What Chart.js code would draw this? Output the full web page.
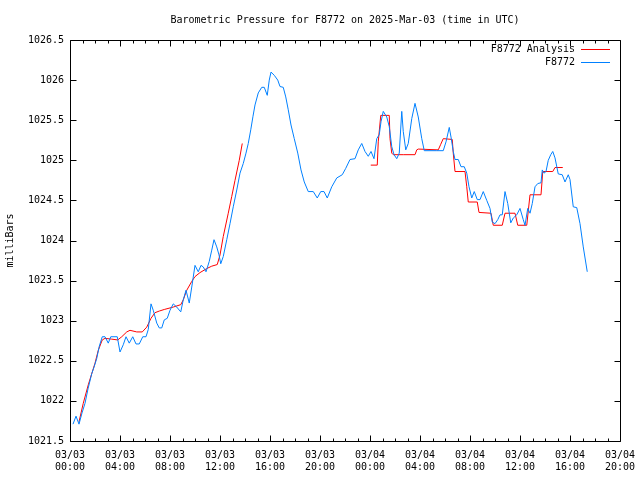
<!DOCTYPE html>
<html><head><meta charset="utf-8">
<script src="https://cdn.jsdelivr.net/npm/chart.js@4/dist/chart.umd.min.js"></script>
<style>html,body{margin:0;padding:0;background:#fff}</style>
</head><body>
<canvas id="c" width="640" height="480"></canvas>
<script>
// ---- data (x in hours since 2025-03-03 00:00 UTC) ----
const stationHours = [0.24,0.48,0.72,0.96,1.2,1.44,1.74,1.92,2.14,2.34,2.58,2.8,3.06,3.26,3.52,3.78,4.0,4.26,4.48,4.74,5.02,5.28,5.54,5.82,6.08,6.26,6.48,6.66,6.94,7.14,7.34,7.54,7.78,8.0,8.26,8.54,8.86,9.06,9.28,9.54,9.74,10.0,10.26,10.48,10.66,10.88,11.14,11.34,11.52,11.74,11.92,12.06,12.26,12.54,12.8,13.06,13.34,13.6,13.86,14.08,14.26,14.46,14.64,14.8,15.06,15.34,15.54,15.78,15.94,16.08,16.34,16.62,16.8,17.06,17.26,17.46,17.68,17.94,18.22,18.48,18.74,19.06,19.46,19.78,20.06,20.32,20.58,20.94,21.34,21.78,22.06,22.4,22.8,23.06,23.34,23.6,23.86,24.08,24.32,24.54,24.74,24.88,25.06,25.34,25.54,25.74,25.92,26.14,26.34,26.54,26.66,26.86,27.06,27.34,27.6,27.86,28.14,28.34,28.8,29.34,29.86,30.08,30.34,30.48,30.66,30.8,31.06,31.28,31.54,31.74,31.92,32.14,32.34,32.58,32.8,33.06,33.34,33.6,33.78,34.0,34.22,34.4,34.58,34.8,35.02,35.26,35.46,35.74,36.0,36.26,36.4,36.62,36.8,36.98,37.2,37.42,37.68,37.78,37.92,38.08,38.26,38.46,38.62,38.8,39.06,39.38,39.6,39.86,40.0,40.26,40.54,40.8,41.06,41.38];
const stationValues = [1021.71,1021.81,1021.71,1021.85,1021.97,1022.15,1022.34,1022.42,1022.53,1022.68,1022.80,1022.80,1022.72,1022.80,1022.80,1022.80,1022.61,1022.70,1022.80,1022.72,1022.80,1022.71,1022.71,1022.80,1022.80,1022.89,1023.21,1023.13,1022.97,1022.91,1022.91,1023.01,1023.03,1023.13,1023.21,1023.17,1023.11,1023.26,1023.38,1023.22,1023.42,1023.69,1023.61,1023.69,1023.67,1023.61,1023.74,1023.88,1024.01,1023.92,1023.82,1023.71,1023.80,1024.01,1024.21,1024.42,1024.63,1024.84,1024.96,1025.09,1025.21,1025.38,1025.55,1025.69,1025.84,1025.91,1025.91,1025.81,1026.00,1026.10,1026.06,1026.00,1025.92,1025.91,1025.79,1025.63,1025.44,1025.27,1025.09,1024.88,1024.73,1024.61,1024.61,1024.53,1024.61,1024.61,1024.53,1024.67,1024.78,1024.82,1024.90,1025.01,1025.02,1025.13,1025.21,1025.11,1025.05,1025.11,1025.02,1025.27,1025.32,1025.48,1025.61,1025.54,1025.42,1025.17,1025.07,1025.02,1025.09,1025.61,1025.36,1025.13,1025.21,1025.52,1025.71,1025.54,1025.27,1025.12,1025.12,1025.12,1025.12,1025.23,1025.41,1025.29,1025.11,1025.01,1025.01,1024.92,1024.92,1024.84,1024.67,1024.53,1024.61,1024.51,1024.51,1024.61,1024.50,1024.40,1024.23,1024.21,1024.26,1024.32,1024.32,1024.61,1024.46,1024.22,1024.28,1024.32,1024.40,1024.26,1024.19,1024.40,1024.34,1024.46,1024.67,1024.71,1024.72,1024.88,1024.84,1024.86,1025.00,1025.07,1025.11,1025.03,1024.83,1024.82,1024.73,1024.82,1024.76,1024.42,1024.41,1024.21,1023.92,1023.61];
const analysisHours = [0.72,1.06,1.46,2.0,2.26,2.58,2.8,3.34,3.82,4.14,4.54,4.8,5.34,5.78,6.14,6.48,6.8,7.14,7.54,8.26,8.86,9.06,9.34,9.74,10.0,10.4,10.94,11.34,11.78,12.0,12.26,12.66,12.94,13.2,13.54,13.78,19.0,24.06,24.58,24.66,24.86,25.54,25.6,25.74,25.86,26.66,27.6,27.74,27.86,29.46,29.66,29.86,30.58,30.66,30.8,31.6,31.74,31.86,32.58,32.72,33.68,33.86,34.58,34.8,35.6,35.82,36.54,36.8,37.68,37.82,38.62,38.8,39.42];
const analysisValues = [1021.74,1021.97,1022.20,1022.47,1022.63,1022.76,1022.78,1022.77,1022.76,1022.80,1022.86,1022.88,1022.86,1022.86,1022.92,1023.03,1023.10,1023.12,1023.14,1023.17,1023.20,1023.26,1023.38,1023.49,1023.55,1023.60,1023.65,1023.68,1023.70,1023.82,1024.05,1024.34,1024.55,1024.75,1025.00,1025.21,null,1024.94,1024.94,1025.23,1025.56,1025.56,1025.27,1025.09,1025.07,1025.07,1025.07,1025.13,1025.14,1025.13,1025.20,1025.27,1025.26,1025.09,1024.86,1024.86,1024.67,1024.48,1024.48,1024.35,1024.34,1024.19,1024.19,1024.34,1024.34,1024.19,1024.19,1024.57,1024.57,1024.86,1024.86,1024.91,1024.91];
const xTickHours = [0,4,8,12,16,20,24,28,32,36,40,44];
const xTickDates = ['03/03','03/03','03/03','03/03','03/03','03/03','03/04','03/04','03/04','03/04','03/04','03/04'];
const xTickTimes = ['00:00','04:00','08:00','12:00','16:00','20:00','00:00','04:00','08:00','12:00','16:00','20:00'];
const yTickValues = [1021.5,1022,1022.5,1023,1023.5,1024,1024.5,1025,1025.5,1026,1026.5];
const yTickLabels = ['1021.5','1022','1022.5','1023','1023.5','1024','1024.5','1025','1025.5','1026','1026.5'];
const seriesNames = ['F8772 Analysis','F8772'];
const seriesColors = ['#ff0000','#0080ff'];

const FONT = 'DejaVu Sans Mono';
Chart.defaults.font.family = FONT;
Chart.defaults.font.size = 10;
Chart.defaults.color = '#000';

const frame = {
  id: 'frame',
  afterDraw(chart) {
    const {ctx, chartArea: a, scales: {x, y}} = chart;
    ctx.save();
    ctx.strokeStyle = '#000';
    ctx.lineWidth = 1;
    const L = Math.round(a.left) + 0.5, R = Math.round(a.right) + 0.5;
    const T = Math.round(a.top) + 0.5, B = Math.round(a.bottom) + 0.5;
    ctx.beginPath();
    ctx.rect(L, T, R - L, B - T);
    for (let h = 0; h <= 44; h++) {
      const px = Math.round(x.getPixelForValue(h)) + 0.5;
      const len = (h % 4 === 0) ? 6 : 3;
      ctx.moveTo(px, B); ctx.lineTo(px, B - len);
      ctx.moveTo(px, T); ctx.lineTo(px, T + len);
    }
    yTickValues.forEach(v => {
      const py = Math.round(y.getPixelForValue(v)) + 0.5;
      ctx.moveTo(L, py); ctx.lineTo(L + 6, py);
      ctx.moveTo(R, py); ctx.lineTo(R - 6, py);
    });
    ctx.stroke();
    // legend
    ctx.font = '10px "' + FONT + '"';
    ctx.textAlign = 'right';
    ctx.textBaseline = 'middle';
    ctx.fillStyle = '#000';
    const rows = [49, 62];
    seriesNames.forEach((n, i) => {
      ctx.fillText(n, 575, rows[i]);
      ctx.strokeStyle = seriesColors[i];
      ctx.beginPath();
      ctx.moveTo(581, rows[i] + 0.5); ctx.lineTo(610, rows[i] + 0.5);
      ctx.stroke();
    });
    ctx.restore();
  }
};

new Chart(document.getElementById('c'), {
  type: 'line',
  data: {
    datasets: [
      {label: seriesNames[0], data: analysisHours.map((h, i) => ({x: h, y: analysisValues[i]})),
       borderColor: seriesColors[0], borderWidth: 1, pointRadius: 0, tension: 0, fill: false, spanGaps: false, order: 1},
      {label: seriesNames[1], data: stationHours.map((h, i) => ({x: h, y: stationValues[i]})),
       borderColor: seriesColors[1], borderWidth: 1, pointRadius: 0, tension: 0, fill: false, order: 0}
    ]
  },
  options: {
    responsive: false,
    animation: false,
    layout: {padding: {top: 0, right: 20, left: 0, bottom: 0}},
    plugins: {
      legend: {display: false},
      tooltip: {enabled: false},
      title: {display: true, text: 'Barometric Pressure for F8772 on 2025-Mar-03 (time in UTC)',
              fullSize: false, font: {size: 10, weight: 'normal', family: FONT}, color: '#000',
              padding: {top: 14, bottom: 14}}
    },
    scales: {
      x: {
        type: 'linear', min: 0, max: 44,
        grid: {display: false, drawTicks: false}, border: {display: false},
        afterBuildTicks: s => { s.ticks = xTickHours.map(v => ({value: v})); },
        afterFit: s => { s.height = 39; s.paddingLeft = 0; s.paddingRight = 0; },
        ticks: {autoSkip: false, maxRotation: 0, padding: 8,
                callback: (v) => { const i = xTickHours.indexOf(v); return i < 0 ? '' : [xTickDates[i], xTickTimes[i]]; }}
      },
      y: {
        min: 1021.5, max: 1026.5,
        grid: {display: false, drawTicks: false}, border: {display: false},
        afterBuildTicks: s => { s.ticks = yTickValues.map(v => ({value: v})); },
        afterFit: s => { s.width = 70; s.paddingTop = 0; s.paddingBottom = 0; },
        ticks: {padding: 6, callback: (v) => { const i = yTickValues.indexOf(v); return i < 0 ? '' : yTickLabels[i]; }},
        title: {display: true, text: 'milliBars', padding: {top: 4, bottom: 0}, font: {size: 10, family: FONT}}
      }
    }
  },
  plugins: [frame]
});
</script>
</body></html>
